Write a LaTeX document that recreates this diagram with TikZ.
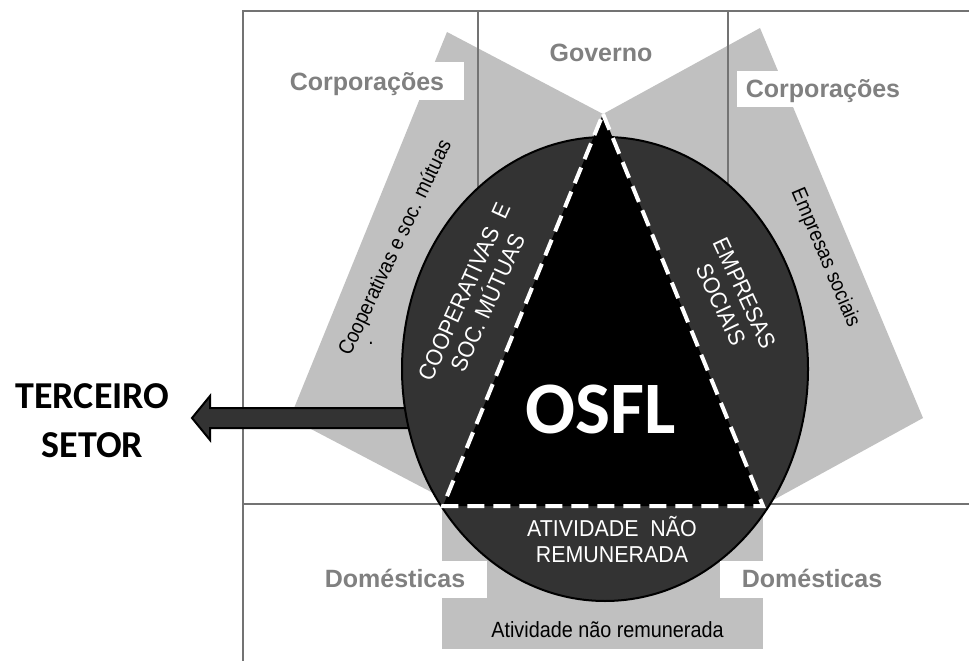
\documentclass[tikz,border=0pt]{standalone}
\usepackage{fontspec}
\setmainfont{Liberation Sans}
\newfontfamily\calib{Carlito}
\newfontfamily\narrowsans[FakeStretch=0.9]{Liberation Sans}
\newfontfamily\darksans[FakeStretch=0.93]{Liberation Sans}
\usetikzlibrary{shapes.geometric}
\definecolor{lgray}{RGB}{192,192,192}
\definecolor{dgray}{RGB}{51,51,51}
\definecolor{fgray}{RGB}{115,115,115}
\definecolor{tgray}{RGB}{128,128,128}
\begin{document}
\begin{tikzpicture}[x=1pt,y=-1pt,
  frameline/.style={draw=fgray,line width=2.5pt},
  graylabel/.style={font=\bfseries\fontsize{25}{30}\selectfont, text=tgray, inner sep=0pt, anchor=base},
  bandtext/.style={font=\narrowsans\fontsize{21}{25}\selectfont, text=black, inner sep=0pt},
  darktext/.style={font=\darksans\fontsize{23}{26}\selectfont, text=white, align=center, inner sep=0pt},
  dashedge/.style={draw=white, line width=4pt, dash pattern=on 17pt off 9pt}
]
\useasboundingbox (0,0) rectangle (969,661);

% light gray bands
\fill[lgray] (447,32) -- (603,114) -- (760,28) -- (923,418) -- (766,504) -- (454,504) -- (290,418) -- cycle;
\fill[lgray] (442,504) rectangle (763,649);

% frame lines
\draw[frameline] (969,11) -- (243,11) -- (243,661);
\draw[frameline] (243,504) -- (969,504);
\draw[frameline] (478,11) -- (478,250);
\draw[frameline] (728,11) -- (728,250);

% white boxes behind upper labels
\fill[white] (280,62) rectangle (464,100);
\fill[white] (737,71) rectangle (902,107);

% block arrow
\coordinate (tip) at (192,418);
\filldraw[fill=dgray, draw=black, line width=2pt, line join=miter]
  (420,408) -- (210,408) -- (210,396) -- (tip) -- (210,440) -- (210,428) -- (420,428) -- cycle;

% ellipse
\node[ellipse, draw=black, line width=2pt, fill=dgray, minimum width=406, minimum height=464, inner sep=0pt] (ell) at (605,369) {};

% triangle
\coordinate (apex) at (603,114);
\coordinate (bl) at (443,506);
\coordinate (br) at (763,506);
\fill[black] (apex) -- (br) -- (bl) -- cycle;
\draw[dashedge] (apex) -- (br) -- (bl) -- cycle;

% white boxes behind lower labels
\fill[white] (310,561) rectangle (487,598);
\fill[white] (720,561) rectangle (895,598);

% labels
\node[graylabel] (gov) at (601,62) {Governo};
\node[graylabel] (corpL) at (367,90) {Corporações};
\node[graylabel] (corpR) at (823,97) {Corporações};
\node[graylabel] (domL) at (395,587) {Domésticas};
\node[graylabel] (domR) at (812,587) {Domésticas};

\node[bandtext, rotate=64.5] (coopband) at (396,248) {Cooperativas e soc. mútuas};
\node[bandtext] (coopdot) at (371,343) {.};
\node[bandtext, rotate=-67] (empband) at (825,258) {Empresas sociais};

\node[darktext, rotate=65.5] (coopin) at (476,297) {COOPERATIVAS\ \ E\\SOC. MÚTUAS};
\node[darktext, rotate=-65] (empin) at (733,299) {EMPRESAS\\SOCIAIS};
\node[darktext, anchor=south] (ativin) at (612,563) {ATIVIDADE\ \ NÃO\\REMUNERADA};

\node[font=\calib\bfseries\fontsize{74}{80}\selectfont, text=white, anchor=base, inner sep=0pt] (osfl) at (601,433) {OSFL};
\node[font=\calib\bfseries\fontsize{38}{49}\selectfont, text=black, align=center, anchor=south, inner sep=0pt] (terc) at (92.5,458) {TERCEIRO\\SETOR};
\node[font=\narrowsans\fontsize{22}{26}\selectfont, text=black, anchor=base, inner sep=0pt] (ativout) at (607.5,637) {Atividade não remunerada};
\end{tikzpicture}
\end{document}
